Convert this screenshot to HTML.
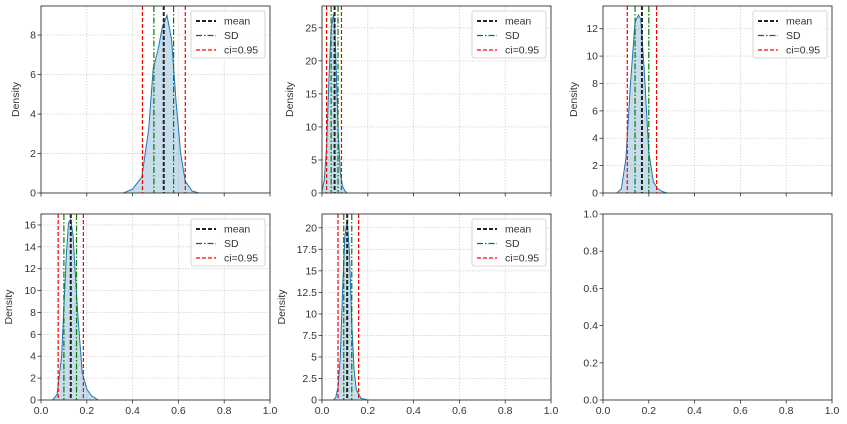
<!DOCTYPE html>
<html><head><meta charset="utf-8"><style>
body{margin:0;background:#fff;}
svg{display:block;font-family:"Liberation Sans","DejaVu Sans",sans-serif;}
</style></head><body>
<svg id="fig" width="847" height="424"></svg>
<script>
const panelPos=[[41,6,229,187],[322,6,229,187],[603,6,229,187],[41,214,229,186],[322,214,229,186],[603,214,229,186]];
const yMaxes=[9.47,28.3,13.66,17.0,21.6,1.0];
const yTickVals=[[0,2,4,6,8],[0,5,10,15,20,25],[0,2,4,6,8,10,12],[0,2,4,6,8,10,12,14,16],[0,2.5,5,7.5,10,12.5,15,17.5,20],[0,0.2,0.4,0.6,0.8,1.0]];
const xTickVals=[0,0.2,0.4,0.6,0.8,1.0];
const means=[0.536,0.055,0.17,0.13,0.11,null];
const sdLo=[0.493,0.04,0.14,0.10,0.095,null];
const sdHi=[0.579,0.07,0.20,0.155,0.13,null];
const ciLo=[0.443,0.02,0.106,0.075,0.07,null];
const ciHi=[0.630,0.085,0.234,0.185,0.16,null];
const kdeX=[
 [0.36,0.40,0.44,0.47,0.49,0.51,0.53,0.55,0.57,0.59,0.61,0.63,0.66,0.69],
 [0.00,0.01,0.02,0.03,0.04,0.05,0.055,0.06,0.07,0.08,0.09,0.10,0.11],
 [0.06,0.08,0.10,0.12,0.14,0.155,0.165,0.18,0.20,0.22,0.24,0.26,0.28],
 [0.05,0.07,0.09,0.11,0.12,0.13,0.14,0.16,0.18,0.20,0.22,0.25],
 [0.05,0.06,0.07,0.08,0.09,0.10,0.11,0.12,0.13,0.14,0.15,0.17,0.20],
 []];
const kdeY=[
 [0,0.2,0.8,3.2,6.3,7.2,8.4,9.0,7.8,4.6,2.0,0.6,0.1,0],
 [0.3,2,7,17,25,27,26,21,10,3,1,0.3,0],
 [0,0.3,2.5,8,12.5,13,12.7,9,3,0.8,0.3,0.1,0],
 [0,0.5,4,13,16.2,16.5,15,8,2.5,1,0.4,0],
 [0,0.3,1.5,5,13,19,21,17,9,3.5,1.2,0.2,0],
 []];
const svg=document.getElementById('fig');
const NS='http://www.w3.org/2000/svg';
function mk(tag,attrs,parent){const e=document.createElementNS(NS,tag);for(const k in attrs)e.setAttribute(k,attrs[k]);(parent||svg).appendChild(e);return e;}
function fmt(v,step){return step<1?v.toFixed(1):String(v);}
panelPos.forEach((p,i)=>{
 const [x0,y0,w,h]=p;
 const g=mk('g',{});
 
 
 const sx=v=>x0+v*w, sy=v=>y0+h-v/yMaxes[i]*h;
 const bottom=i>=3;
 const yt=yTickVals[i];const step=yt[1]-yt[0];
 if(i<5){
  xTickVals.forEach(v=>{const l=mk('line',{x1:sx(v),x2:sx(v),y1:y0,y2:y0+h,stroke:'#d0d0d0','stroke-dasharray':'1.5,1.5','stroke-width':0.8},g);});
  yt.forEach(v=>{const l=mk('line',{x1:x0,x2:x0+w,y1:sy(v),y2:sy(v),stroke:'#d0d0d0','stroke-dasharray':'1.5,1.5','stroke-width':0.8},g);});
 }
 if(kdeX[i].length){
  let d='M'+sx(kdeX[i][0])+','+sy(0);
  kdeX[i].forEach((xv,j)=>{d+=' L'+sx(xv)+','+sy(kdeY[i][j]);});
  d+=' L'+sx(kdeX[i][kdeX[i].length-1])+','+sy(0)+'Z';
  const a=mk('path',{d:d,fill:'rgba(31,119,180,0.25)',stroke:'none'},g);
  
  let d2='M'+kdeX[i].map((xv,j)=>sx(xv)+','+sy(kdeY[i][j])).join(' L');
  const l=mk('path',{d:d2,fill:'none',stroke:'#1f77b4','stroke-width':1},g);
  
  const vl=(v,c,da,wd,nm)=>{const e=mk('line',{x1:sx(v),x2:sx(v),y1:y0,y2:y0+h,stroke:c,'stroke-dasharray':da,'stroke-width':wd},g);};
  vl(ciLo[i],'red','4,2',1.2,'ci-lower-line');vl(ciHi[i],'red','4,2',1.2,'ci-upper-line');
  vl(sdLo[i],'green','6,2,1.5,2',1.2,'sd-lower-line');vl(sdHi[i],'green','6,2,1.5,2',1.2,'sd-upper-line');
  vl(means[i],'#222','4,2',2,'mean-line');
  const lx=x0+w-79, ly=y0+5;
  const lg=mk('g',{},g);
  mk('rect',{x:lx,y:ly,width:74,height:47,rx:2,fill:'rgba(255,255,255,0.85)',stroke:'#ccc','stroke-width':0.8},lg);
  const ents=[['mean','#222','4,2',2],['SD','green','6,2,1.5,2',1.2],['ci=0.95','red','4,2',1.2]];
  ents.forEach((e,k)=>{const yy=ly+10+k*14.5;
   const eg=mk('g',{},lg);
   mk('line',{x1:lx+5,x2:lx+25,y1:yy,y2:yy,stroke:e[1],'stroke-dasharray':e[2],'stroke-width':e[3]},eg);
   const t=mk('text',{x:lx+33,y:yy+3.5,'font-size':10.5,fill:'#333'},eg);t.textContent=e[0];});
 }
 const fr=mk('rect',{x:x0,y:y0,width:w,height:h,fill:'none',stroke:'#333','stroke-width':0.9},g);
 
 yt.forEach(v=>{mk('line',{x1:x0-3.5,x2:x0,y1:sy(v),y2:sy(v),stroke:'#333','stroke-width':0.8},g);
  const t=mk('text',{x:x0-5,y:sy(v)+3.5,'font-size':10.5,fill:'#333','text-anchor':'end'},g);
  
  t.textContent=fmt(v,step);});
 xTickVals.forEach(v=>{mk('line',{x1:sx(v),x2:sx(v),y1:y0+h,y2:y0+h+3.5,stroke:'#333','stroke-width':0.8},g);
  if(bottom){const t=mk('text',{x:sx(v),y:y0+h+14,'font-size':10.5,fill:'#333','text-anchor':'middle'},g);
   t.textContent=v.toFixed(1);}});
 if(i<5){
  const labX=[x0-22,x0-29,x0-26,x0-29,x0-37][i];
  const t=mk('text',{x:labX,y:y0+h/2,'font-size':10.5,fill:'#333','text-anchor':'middle',transform:'rotate(-90 '+labX+' '+(y0+h/2)+')'},g);
  t.textContent='Density';
 }
});
</script>
</body></html>
